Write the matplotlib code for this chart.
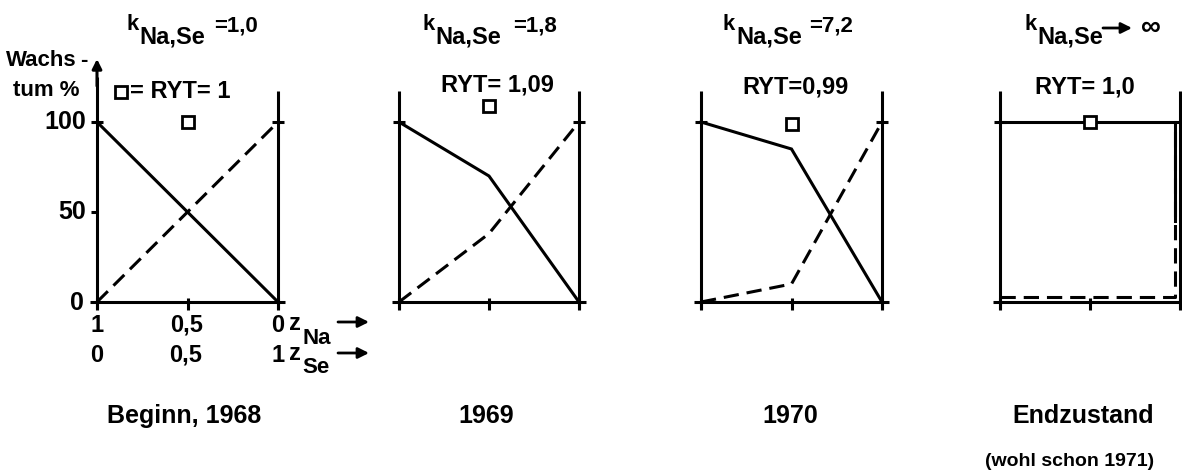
import matplotlib
matplotlib.use("Agg")
import matplotlib.pyplot as plt

# data (x = z_Se, 0..1; y = Wachstum %)
z_se = [0, 0.5, 1]
na_1968 = [100, 50, 0]
se_1968 = [0, 50, 100]
na_1969 = [100, 70, 0]
se_1969 = [0, 38, 100]
na_1970 = [100, 85, 0]
se_1970 = [0, 10, 100]
z_end = [0, 0.97, 0.97]
na_end = [100, 100, 45]
se_end = [3, 3, 100]
ryt = [1.0, 1.09, 0.99, 1.0]
k_labels = ["=1,0", "=1,8", "=7,2", ""]
ryt_labels = ["= RYT= 1", "RYT= 1,09", "RYT=0,99", "RYT= 1,0"]
year_labels = ["Beginn, 1968", "1969", "1970", "Endzustand"]

W, H = 1182, 473
FONT = "Liberation Sans"
plt.rcParams["font.family"] = [FONT, "DejaVu Sans"]
plt.rcParams["font.weight"] = "bold"

fig = plt.figure(figsize=(W / 100, H / 100), dpi=100)


def ftext(x, y, s, size=16, ha="center", va="center", **kw):
    fig.text(x / W, 1 - y / H, s, fontsize=size, ha=ha, va=va,
             fontweight="bold", **kw)


def farrow(x0, x1, y):
    fig.add_artist(matplotlib.patches.FancyArrowPatch(
        (x0 / W, 1 - y / H), (x1 / W, 1 - y / H), transform=fig.transFigure,
        arrowstyle="-|>", mutation_scale=16, lw=2, color="black",
        shrinkA=0, shrinkB=0))


lefts = [97, 399, 701, 1000]
widths = [181, 180, 181, 180]
series = [(z_se, na_1968, z_se, se_1968),
          (z_se, na_1969, z_se, se_1969),
          (z_se, na_1970, z_se, se_1970),
          (z_end, na_end, z_end, se_end)]

LW = 2.2
for i, (xn, yn, xs, ys) in enumerate(series):
    ax = fig.add_axes([lefts[i] / W, 1 - 302 / H, widths[i] / W, 180 / H])
    ax.set_xlim(0, 1)
    ax.set_ylim(0, 100)
    ax.axis("off")
    kw = dict(color="black", clip_on=False, lw=LW, solid_capstyle="butt")
    # frame lines
    ax.plot([-0.04, 1.04], [0, 0], **kw)
    ax.plot([1, 1], [-4, 117], **kw)
    if i == 0:
        ax.plot([0, 0], [-4, 125], **kw)
        ax.annotate("", xy=(0, 135), xytext=(0, 120), annotation_clip=False,
                    arrowprops=dict(arrowstyle="-|>", lw=LW, color="black",
                                    mutation_scale=14, shrinkA=0, shrinkB=0))
    else:
        ax.plot([0, 0], [-4, 117], **kw)
    for xt in [0, 0.5, 1]:
        ax.plot([xt, xt], [2, -4.5], **kw)
    for xt in [0, 1]:
        ax.plot([xt - 0.035, xt + 0.035], [100, 100], **kw)
    if i == 0:
        ax.plot([-0.035, 0.0], [50, 50], **kw)
    # data
    ax.plot(xs, ys, color="black", lw=LW, ls=(0, (5, 2.6)), clip_on=False)
    ax.plot(xn, yn, color="black", lw=LW, clip_on=False,
            solid_joinstyle="miter")
    ax.plot([0.5], [100 * ryt[i]], marker="s", ms=9, mfc="white",
            mec="black", mew=2, ls="none", clip_on=False, zorder=5)

# titles k_{Na,Se}
k_x = [126, 422, 723, 1024]
for i in range(4):
    ftext(k_x[i], 24, "k", size=16, ha="left")
    ftext(k_x[i] + 13, 37, "Na,Se", size=17, ha="left")
k_val_x = [214, 513, 809]
for i in range(3):
    ftext(k_val_x[i], 26, k_labels[i], size=16, ha="left")
farrow(1103, 1132, 28)
ftext(1151, 28, "\u221e", size=20)

# RYT labels
ftext(130, 92, ryt_labels[0], size=17, ha="left")
fig.add_artist(matplotlib.lines.Line2D([121 / W], [1 - 92 / H], marker="s",
                                       ms=9, mfc="white", mec="black", mew=2,
                                       transform=fig.transFigure))
ftext(497, 85, ryt_labels[1], size=17)
ftext(796, 87, ryt_labels[2], size=17)
ftext(1085, 87, ryt_labels[3], size=17)

# y axis labels (panel 1)
ftext(86, 122, "100", size=18, ha="right")
ftext(86, 212, "50", size=18, ha="right")
ftext(84, 303, "0", size=18, ha="right")
ftext(6, 61, "Wachs", size=16, ha="left")
ftext(80, 61, "-", size=16, ha="left")
ftext(13, 91, "tum %", size=16, ha="left")

# x axis labels (panel 1)
for xp, s in zip([97, 187, 278], ["1", "0,5", "0"]):
    ftext(xp, 325, s, size=17)
for xp, s in zip([97, 186, 278], ["0", "0,5", "1"]):
    ftext(xp, 355, s, size=17)
ftext(289, 323, "z", size=17, ha="left")
ftext(302, 338, "Na", size=16, ha="left")
ftext(289, 353, "z", size=17, ha="left")
ftext(302, 367, "Se", size=16, ha="left")
farrow(338, 369, 322)
farrow(338, 369, 353)

# bottom labels
for xc, s in zip([184, 486, 790, 1083], year_labels):
    ftext(xc, 416, s, size=18)
ftext(1070, 461, "(wohl schon 1971)", size=14)

fig.savefig("out.png", dpi=100, facecolor="white")
